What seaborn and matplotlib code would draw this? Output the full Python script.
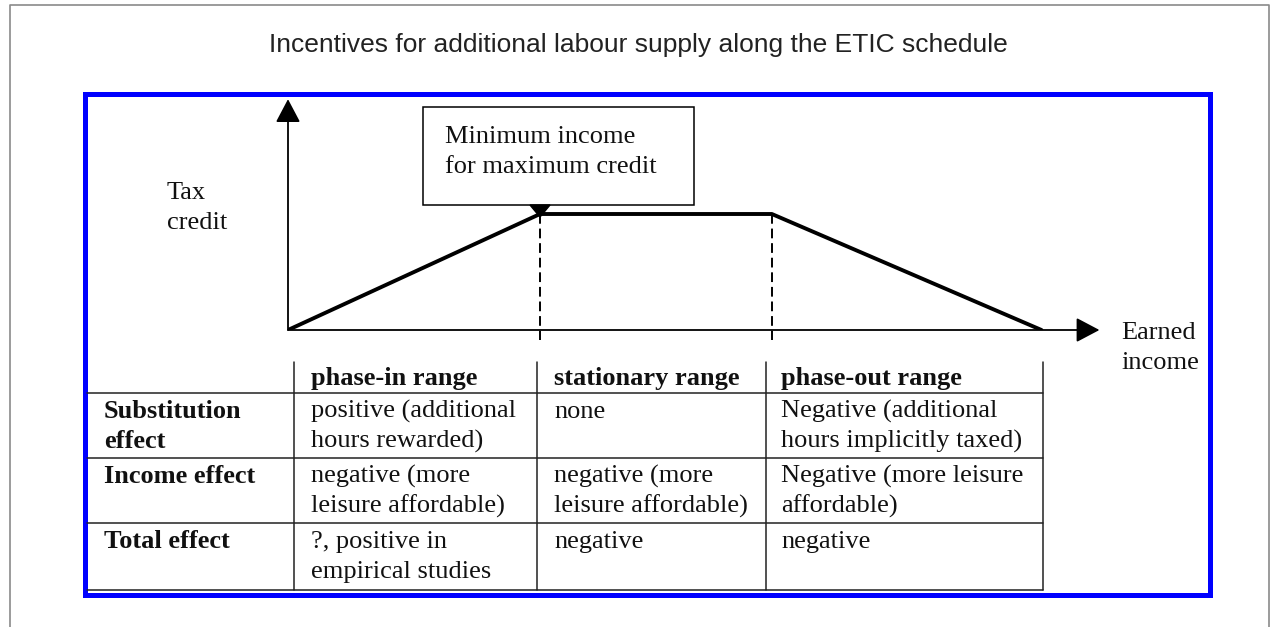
import seaborn as sns
import matplotlib.pyplot as plt
from matplotlib.patches import Rectangle, Polygon

# ETIC schedule: earned income (arbitrary units) and tax credit (share of max)
income = [0, 10, 19.2, 29.9]
credit = [0, 1, 1, 0]
range_edges = [10, 19.2]

title = "Incentives for additional labour supply along the ETIC schedule"
callout = "Minimum income\nfor maximum credit"
y_label = "Tax\ncredit"
x_label = "Earned\nincome"
col_heads = ["phase-in range", "stationary range", "phase-out range"]
row_heads = ["Substitution\neffect", "Income effect", "Total effect"]
cells = [
    ["positive (additional\nhours rewarded)", "none",
     "Negative (additional\nhours implicitly taxed)"],
    ["negative (more\nleisure affordable)", "negative (more\nleisure affordable)",
     "Negative (more leisure\naffordable)"],
    ["?, positive in\nempirical studies", "negative", "negative"],
]

sns.set_style("white")
serif = "Liberation Serif"
fs = 19
lh = 30  # line height in pixels

W, H = 1273, 627
fig = plt.figure(figsize=(W / 100, H / 100), dpi=100)

# background axes in pixel coordinates for frame, title, box and table
bg = fig.add_axes([0, 0, 1, 1])
bg.set_xlim(0, W)
bg.set_ylim(H, 0)
bg.axis("off")


def put(x, y, s, **kw):
    for i, line in enumerate(s.split("\n")):
        bg.text(x, y + i * lh, line, va="baseline", family=serif,
                fontsize=fs, color="#111111", **kw)


bg.plot([10, 10, 1269, 1269], [H + 5, 5, 5, H + 5], color="#8a8a8a", lw=1.2)
bg.add_patch(Rectangle((84.5, 93.5), 1125, 501, fill=False, ec="#0000ff", lw=3.6))
bg.text(638, 52, title, ha="center", va="baseline", fontsize=19,
        family="Liberation Sans", color="#222222")

# schedule diagram
x0, y0, sx, sy = 288, 330, 25.2, 116
xmax, ymax = 32.2, 1.99
ax = fig.add_axes([x0 / W, (H - y0) / H, xmax * sx / W, ymax * sy / H])
ax.set_xlim(0, xmax)
ax.set_ylim(0, ymax)
ax.axis("off")
ax.patch.set_alpha(0)

sns.lineplot(x=income, y=credit, ax=ax, color="black", lw=2.8, sort=False)

arrow_kw = dict(arrowstyle="-|>,head_length=0.72,head_width=0.38",
                mutation_scale=20, color="black", lw=1.3, shrinkA=0, shrinkB=0)
ax.annotate("", xy=(xmax, 0), xytext=(0, 0), arrowprops=arrow_kw,
            annotation_clip=False)
ax.annotate("", xy=(0, ymax), xytext=(0, 0), arrowprops=arrow_kw,
            annotation_clip=False)

for xv in range_edges:
    ax.plot([xv, xv], [1, -0.09], color="black", lw=1.4,
            ls=(0, (5, 2.5)), clip_on=False)

put(167, 199, y_label)
put(1121, 339, x_label)

# callout box with pointer to the start of the plateau
bg.add_patch(Rectangle((423, 107), 271, 98, fc="white", ec="black", lw=1.1))
put(445, 143, callout)
tip_x = x0 + range_edges[0] * sx
tip_y = y0 - credit[1] * sy
bg.add_patch(Polygon([(tip_x - 10, 205), (tip_x + 10, 205), (tip_x, tip_y + 3)],
                     closed=True, color="black"))

# table
col_x = [294, 537, 766, 1043]
row_y = [393, 458, 523, 590]
for y in row_y:
    bg.plot([87, col_x[-1]], [y, y], color="#222222", lw=1.1)
for x in col_x:
    bg.plot([x, x], [362, row_y[-1]], color="#222222", lw=1.1)

text_x = [104, 311, 554, 781]
for j, head in enumerate(col_heads):
    put(text_x[j + 1], 385, head, weight="bold")
for i, rh in enumerate(row_heads):
    put(text_x[0], row_y[i] + 25, rh, weight="bold")
    for j, c in enumerate(cells[i]):
        put(text_x[j + 1], row_y[i] + 25, c)

fig.savefig("out.png", dpi=100)
